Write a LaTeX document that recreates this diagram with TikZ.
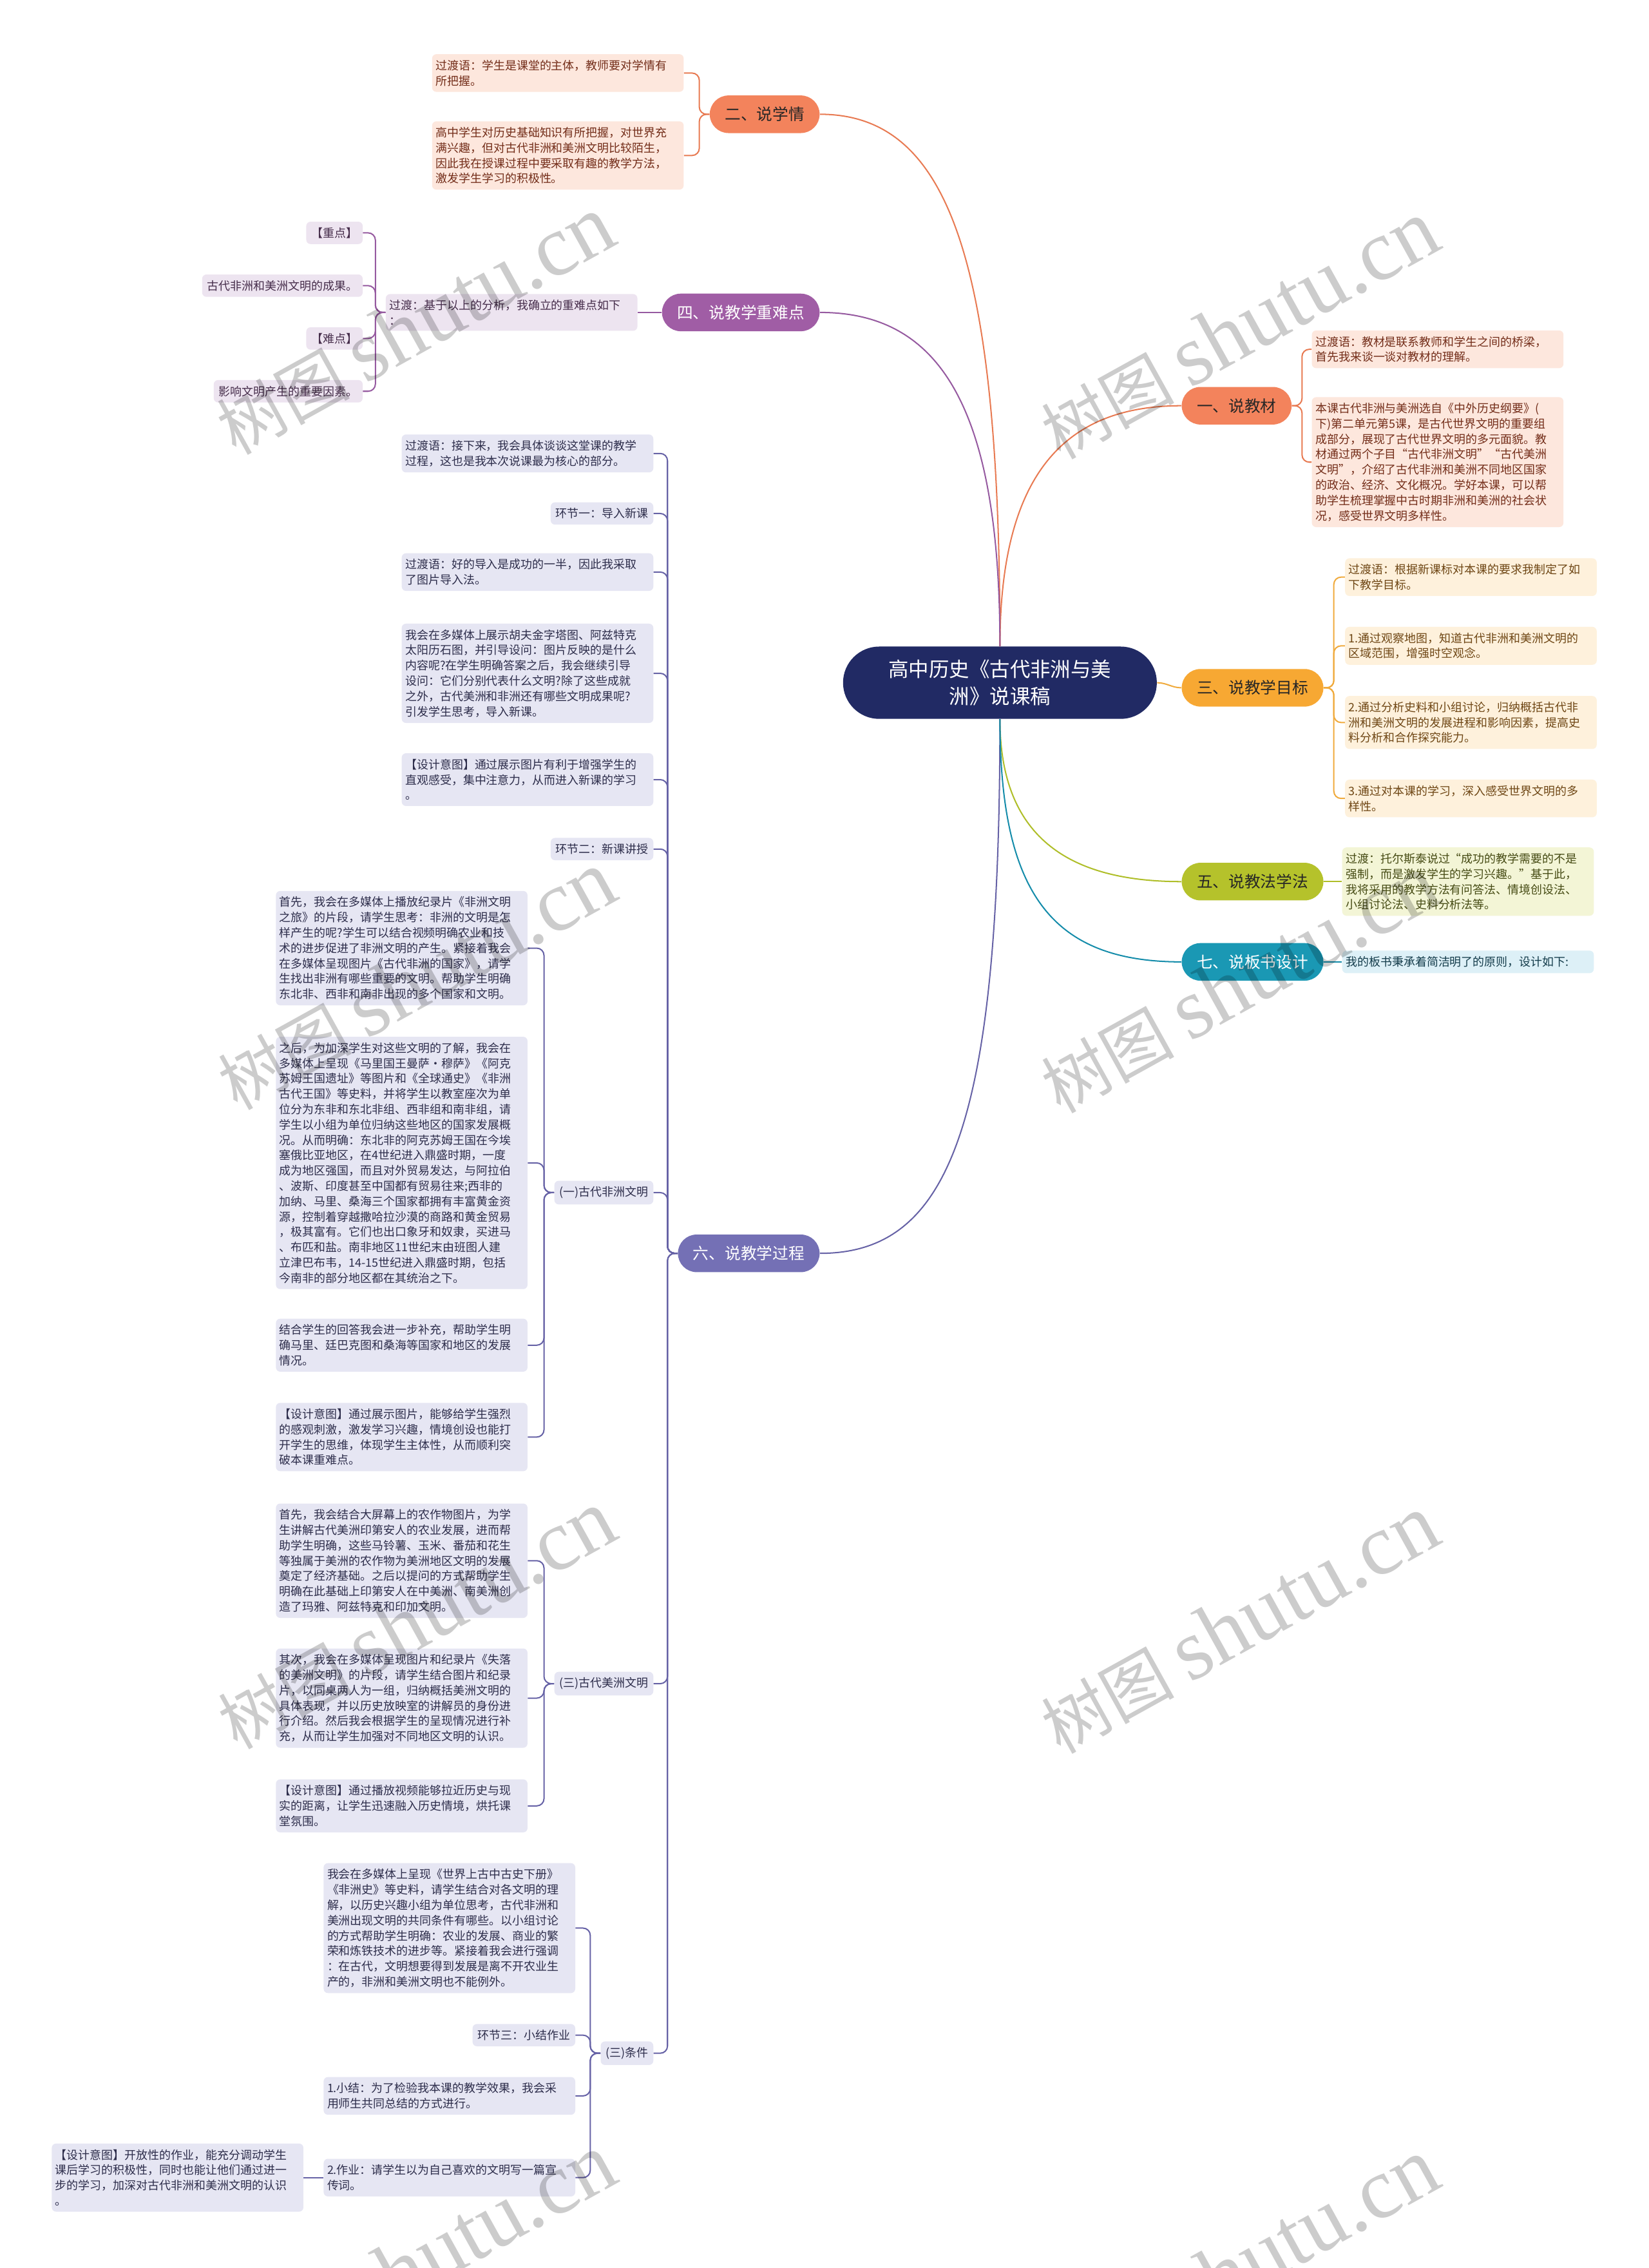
\documentclass[tikz,border=0pt]{standalone}
\usepackage{fontspec}
\setmainfont{Noto Sans CJK SC}
\newfontfamily\wmserif{Liberation Serif}
\usepackage{xcolor}
\usepackage{tikz}
\usetikzlibrary{positioning}
\setlength{\parindent}{0pt}
\definecolor{rootblue}{RGB}{33,42,100}
\definecolor{orangebr}{RGB}{243,131,92}
\definecolor{orangeln}{RGB}{232,122,82}
\definecolor{orangefl}{RGB}{253,231,221}
\definecolor{orangetx}{RGB}{115,45,25}
\definecolor{yellowbr}{RGB}{247,168,51}
\definecolor{yellowln}{RGB}{240,170,60}
\definecolor{yellowfl}{RGB}{254,241,220}
\definecolor{yellowtx}{RGB}{110,70,20}
\definecolor{greenbr}{RGB}{181,194,43}
\definecolor{greenln}{RGB}{175,190,40}
\definecolor{greenfl}{RGB}{243,245,214}
\definecolor{greentx}{RGB}{70,75,20}
\definecolor{bluebr}{RGB}{26,152,180}
\definecolor{blueln}{RGB}{20,140,170}
\definecolor{bluefl}{RGB}{221,240,247}
\definecolor{bluetx}{RGB}{20,60,75}
\definecolor{violetbr}{RGB}{160,93,165}
\definecolor{violetln}{RGB}{150,90,160}
\definecolor{violetfl}{RGB}{237,228,240}
\definecolor{violettx}{RGB}{70,45,75}
\definecolor{slatebr}{RGB}{116,112,181}
\definecolor{slateln}{RGB}{102,98,166}
\definecolor{slatefl}{RGB}{230,230,243}
\definecolor{slatetx}{RGB}{45,45,75}

\begin{document}
\begin{tikzpicture}[x=1pt, y=-1pt,
    root/.style={fill=rootblue, text=white, rounded corners=25pt, minimum width=217pt,
        minimum height=50pt, align=center, font=\fontsize{14}{18.5}\selectfont},
    topic/.style={fill=#1, text=black!85, rounded corners=13pt, minimum height=26pt,
        inner xsep=10.5pt, font=\fontsize{11}{13}\selectfont},
    leaf/.style={rounded corners=3pt, text width=169pt, align=left, inner xsep=2.5pt,
        inner ysep=4pt, font=\fontsize{8}{10.6}\selectfont},
    tag/.style={rounded corners=3pt, inner xsep=3.5pt, inner ysep=4pt,
        font=\fontsize{8}{10.6}\selectfont},
    link/.style={draw=#1, line width=0.9pt},
    fork/.style={draw=#1, line width=0.9pt, rounded corners=5pt},
    wmark/.style={text=black, text opacity=0.2, rotate=29, inner sep=0pt,
        font=\fontsize{46}{46}\selectfont}
]
    \useasboundingbox[fill=white] (0,0) rectangle (1140,1568);
    % Root
    \node[root] (root) at (691.5,472) {高中历史《古代非洲与美\\洲》说课稿};
    % Topics on the right
    \node[topic=orangebr, anchor=west] (t1) at (817,280.5) {一、说教材};
    \node[topic=yellowbr, anchor=west] (t3) at (817,475.5) {三、说教学目标};
    \node[topic=greenbr, anchor=west] (t5) at (817,609.5) {五、说教法学法};
    \node[topic=bluebr, anchor=west, text=white] (t7) at (817,665) {七、说板书设计};
    % Topics on the left
    \node[topic=orangebr, anchor=east] (t2) at (567,79) {二、说学情};
    \node[topic=violetbr, anchor=east, text=white] (t4) at (567,216) {四、说教学重难点};
    \node[topic=slatebr, anchor=east, text=white] (t6) at (567,866.5) {六、说教学过程};
    % Root to topics
    \draw[link=orangeln] (root.north) .. controls +(0,-120) and +(-80,0) .. (t1.west);
    \draw[link=orangeln] (root.north) .. controls +(0,-265) and +(90,0) .. (t2.east);
    \draw[link=yellowln] (root.east) to[out=0, in=180] (t3.west);
    \draw[link=violetln] (root.north) .. controls +(0,-170) and +(80,0) .. (t4.east);
    \draw[link=greenln] (root.south) .. controls +(0,80) and +(-80,0) .. (t5.west);
    \draw[link=slateln] (root.south) .. controls +(0,280) and +(90,0) .. (t6.east);
    \draw[link=blueln] (root.south) .. controls +(0,120) and +(-90,0) .. (t7.west);

    % 一 Teaching material
    \node[leaf, fill=orangefl, text=orangetx, anchor=west] (o1) at (907,241.5)
        {过渡语：教材是联系教师和学生之间的桥梁，\\首先我来谈一谈对教材的理解。};
    \node[leaf, fill=orangefl, text=orangetx, anchor=west] (o2) at (907,319.5)
        {本课古代非洲与美洲选自《中外历史纲要》(\\下)第二单元第5课，是古代世界文明的重要组\\成部分，展现了古代世界文明的多元面貌。教\\材通过两个子目“古代非洲文明”“古代美洲\\文明”，介绍了古代非洲和美洲不同地区国家\\的政治、经济、文化概况。学好本课，可以帮\\助学生梳理掌握中古时期非洲和美洲的社会状\\况，感受世界文明多样性。};
    \foreach \c in {o1,o2} \draw[fork=orangeln] (t1.east) -- ++(7,0) |- (\c.west);

    % 二 Students
    \node[leaf, fill=orangefl, text=orangetx, anchor=east] (w1) at (473,50.5)
        {过渡语：学生是课堂的主体，教师要对学情有\\所把握。};
    \node[leaf, fill=orangefl, text=orangetx, anchor=east] (w2) at (473,107.5)
        {高中学生对历史基础知识有所把握，对世界充\\满兴趣，但对古代非洲和美洲文明比较陌生，\\因此我在授课过程中要采取有趣的教学方法，\\激发学生学习的积极性。};
    \foreach \c in {w1,w2} \draw[fork=orangeln] (t2.west) -- ++(-7,0) |- (\c.east);

    % 三 Goals
    \node[leaf, fill=yellowfl, text=yellowtx, anchor=west] (g1) at (930,399)
        {过渡语：根据新课标对本课的要求我制定了如\\下教学目标。};
    \node[leaf, fill=yellowfl, text=yellowtx, anchor=west] (g2) at (930,446.5)
        {1.通过观察地图，知道古代非洲和美洲文明的\\区域范围，增强时空观念。};
    \node[leaf, fill=yellowfl, text=yellowtx, anchor=west] (g3) at (930,499.5)
        {2.通过分析史料和小组讨论，归纳概括古代非\\洲和美洲文明的发展进程和影响因素，提高史\\料分析和合作探究能力。};
    \node[leaf, fill=yellowfl, text=yellowtx, anchor=west] (g4) at (930,552)
        {3.通过对本课的学习，深入感受世界文明的多\\样性。};
    \foreach \c in {g1,g2,g3,g4} \draw[fork=yellowln] (t3.east) -- ++(7,0) |- (\c.west);

    % 五 Methods
    \node[leaf, fill=greenfl, text=greentx, anchor=west] (m1) at (928,609.5)
        {过渡：托尔斯泰说过“成功的教学需要的不是\\强制，而是激发学生的学习兴趣。”基于此，\\我将采用的教学方法有问答法、情境创设法、\\小组讨论法、史料分析法等。};
    \draw[link=greenln] (t5.east) -- (m1.west);

    % 七 Board
    \node[leaf, fill=bluefl, text=bluetx, anchor=west] (d1) at (928,665)
        {我的板书秉承着简洁明了的原则，设计如下:};
    \draw[link=blueln] (t7.east) -- (d1.west);

    % 四 Key points
    \node[leaf, fill=violetfl, text=violettx, anchor=east] (k0) at (441,216)
        {过渡：基于以上的分析，我确立的重难点如下\\：};
    \draw[link=violetln] (t4.west) -- (k0.east);
    \node[tag, fill=violetfl, text=violettx, anchor=east] (k1) at (251,161) {【重点】};
    \node[tag, fill=violetfl, text=violettx, anchor=east] (k2) at (251,197.5) {古代非洲和美洲文明的成果。};
    \node[tag, fill=violetfl, text=violettx, anchor=east] (k3) at (251,234) {【难点】};
    \node[tag, fill=violetfl, text=violettx, anchor=east] (k4) at (251,270.5) {影响文明产生的重要因素。};
    \foreach \c in {k1,k2,k3,k4} \draw[fork=violetln] (k0.west) -- ++(-7,0) |- (\c.east);

    % 六 Process
    \node[leaf, fill=slatefl, text=slatetx, anchor=east] (p1) at (452,313.5)
        {过渡语：接下来，我会具体谈谈这堂课的教学\\过程，这也是我本次说课最为核心的部分。};
    \node[tag, fill=slatefl, text=slatetx, anchor=east] (p2) at (452,355) {环节一：导入新课};
    \node[leaf, fill=slatefl, text=slatetx, anchor=east] (p3) at (452,395.5)
        {过渡语：好的导入是成功的一半，因此我采取\\了图片导入法。};
    \node[leaf, fill=slatefl, text=slatetx, anchor=east] (p4) at (452,465.5)
        {我会在多媒体上展示胡夫金字塔图、阿兹特克\\太阳历石图，并引导设问：图片反映的是什么\\内容呢?在学生明确答案之后，我会继续引导\\设问：它们分别代表什么文明?除了这些成就\\之外，古代美洲和非洲还有哪些文明成果呢?\\引发学生思考，导入新课。};
    \node[leaf, fill=slatefl, text=slatetx, anchor=east] (p5) at (452,539)
        {【设计意图】通过展示图片有利于增强学生的\\直观感受，集中注意力，从而进入新课的学习\\。};
    \node[tag, fill=slatefl, text=slatetx, anchor=east] (p6) at (452,587) {环节二：新课讲授};
    \node[tag, fill=slatefl, text=slatetx, anchor=east] (p7) at (452,824.5) {(一)古代非洲文明};
    \node[tag, fill=slatefl, text=slatetx, anchor=east] (p8) at (452,1164) {(三)古代美洲文明};
    \node[tag, fill=slatefl, text=slatetx, anchor=east] (p9) at (452,1419.5) {(三)条件};
    \foreach \c in {p1,p2,p3,p4,p5,p6,p7,p8,p9}
        \draw[fork=slateln] (t6.west) -- ++(-7,0) |- (\c.east);

    % (一) Africa
    \node[leaf, fill=slatefl, text=slatetx, anchor=east] (a1) at (365,655.5)
        {首先，我会在多媒体上播放纪录片《非洲文明\\之旅》的片段，请学生思考：非洲的文明是怎\\样产生的呢?学生可以结合视频明确农业和技\\术的进步促进了非洲文明的产生。紧接着我会\\在多媒体呈现图片《古代非洲的国家》，请学\\生找出非洲有哪些重要的文明。帮助学生明确\\东北非、西非和南非出现的多个国家和文明。};
    \node[leaf, fill=slatefl, text=slatetx, anchor=east] (a2) at (365,804)
        {之后，为加深学生对这些文明的了解，我会在\\多媒体上呈现《马里国王曼萨·穆萨》《阿克\\苏姆王国遗址》等图片和《全球通史》《非洲\\古代王国》等史料，并将学生以教室座次为单\\位分为东非和东北非组、西非组和南非组，请\\学生以小组为单位归纳这些地区的国家发展概\\况。从而明确：东北非的阿克苏姆王国在今埃\\塞俄比亚地区，在4世纪进入鼎盛时期，一度\\成为地区强国，而且对外贸易发达，与阿拉伯\\、波斯、印度甚至中国都有贸易往来;西非的\\加纳、马里、桑海三个国家都拥有丰富黄金资\\源，控制着穿越撒哈拉沙漠的商路和黄金贸易\\，极其富有。它们也出口象牙和奴隶，买进马\\、布匹和盐。南非地区11世纪末由班图人建\\立津巴布韦，14-15世纪进入鼎盛时期，包括\\今南非的部分地区都在其统治之下。};
    \node[leaf, fill=slatefl, text=slatetx, anchor=east] (a3) at (365,930)
        {结合学生的回答我会进一步补充，帮助学生明\\确马里、廷巴克图和桑海等国家和地区的发展\\情况。};
    \node[leaf, fill=slatefl, text=slatetx, anchor=east] (a4) at (365,993.5)
        {【设计意图】通过展示图片，能够给学生强烈\\的感观刺激，激发学习兴趣，情境创设也能打\\开学生的思维，体现学生主体性，从而顺利突\\破本课重难点。};
    \foreach \c in {a1,a2,a3,a4} \draw[fork=slateln] (p7.west) -- ++(-7,0) |- (\c.east);

    % (三) America
    \node[leaf, fill=slatefl, text=slatetx, anchor=east] (b1) at (365,1079)
        {首先，我会结合大屏幕上的农作物图片，为学\\生讲解古代美洲印第安人的农业发展，进而帮\\助学生明确，这些马铃薯、玉米、番茄和花生\\等独属于美洲的农作物为美洲地区文明的发展\\奠定了经济基础。之后以提问的方式帮助学生\\明确在此基础上印第安人在中美洲、南美洲创\\造了玛雅、阿兹特克和印加文明。};
    \node[leaf, fill=slatefl, text=slatetx, anchor=east] (b2) at (365,1174)
        {其次，我会在多媒体呈现图片和纪录片《失落\\的美洲文明》的片段，请学生结合图片和纪录\\片，以同桌两人为一组，归纳概括美洲文明的\\具体表现，并以历史放映室的讲解员的身份进\\行介绍。然后我会根据学生的呈现情况进行补\\充，从而让学生加强对不同地区文明的认识。};
    \node[leaf, fill=slatefl, text=slatetx, anchor=east] (b3) at (365,1248.5)
        {【设计意图】通过播放视频能够拉近历史与现\\实的距离，让学生迅速融入历史情境，烘托课\\堂氛围。};
    \foreach \c in {b1,b2,b3} \draw[fork=slateln] (p8.west) -- ++(-7,0) |- (\c.east);

    % (三) Conditions
    \node[leaf, fill=slatefl, text=slatetx, anchor=east] (c1) at (398,1333)
        {我会在多媒体上呈现《世界上古中古史下册》\\《非洲史》等史料，请学生结合对各文明的理\\解，以历史兴趣小组为单位思考，古代非洲和\\美洲出现文明的共同条件有哪些。以小组讨论\\的方式帮助学生明确：农业的发展、商业的繁\\荣和炼铁技术的进步等。紧接着我会进行强调\\：在古代，文明想要得到发展是离不开农业生\\产的，非洲和美洲文明也不能例外。};
    \node[tag, fill=slatefl, text=slatetx, anchor=east] (c2) at (398,1407) {环节三：小结作业};
    \node[leaf, fill=slatefl, text=slatetx, anchor=east] (c3) at (398,1449)
        {1.小结：为了检验我本课的教学效果，我会采\\用师生共同总结的方式进行。};
    \node[leaf, fill=slatefl, text=slatetx, anchor=east] (c4) at (398,1505.5)
        {2.作业：请学生以为自己喜欢的文明写一篇宣\\传词。};
    \foreach \c in {c1,c2,c3,c4} \draw[fork=slateln] (p9.west) -- ++(-7,0) |- (\c.east);
    \node[leaf, fill=slatefl, text=slatetx, anchor=east] (c5) at (210,1505.5)
        {【设计意图】开放性的作业，能充分调动学生\\课后学习的积极性，同时也能让他们通过进一\\步的学习，加深对古代非洲和美洲文明的认识\\。};
    \draw[link=slateln] (c4.west) -- (c5.east);

    % Watermark
    \begin{scope}
        \clip (0,0) rectangle (1140,1568);
        \foreach \wx/\wy in {287/225, 857/228, 288/678, 857/680, 288/1120, 857/1123, 288/1565, 857/1568}
            \node[wmark] (wm-\wx-\wy) at (\wx,\wy) {树图 {\wmserif\fontsize{60}{60}\selectfont shutu.cn}};
    \end{scope}
\end{tikzpicture}
\end{document}
